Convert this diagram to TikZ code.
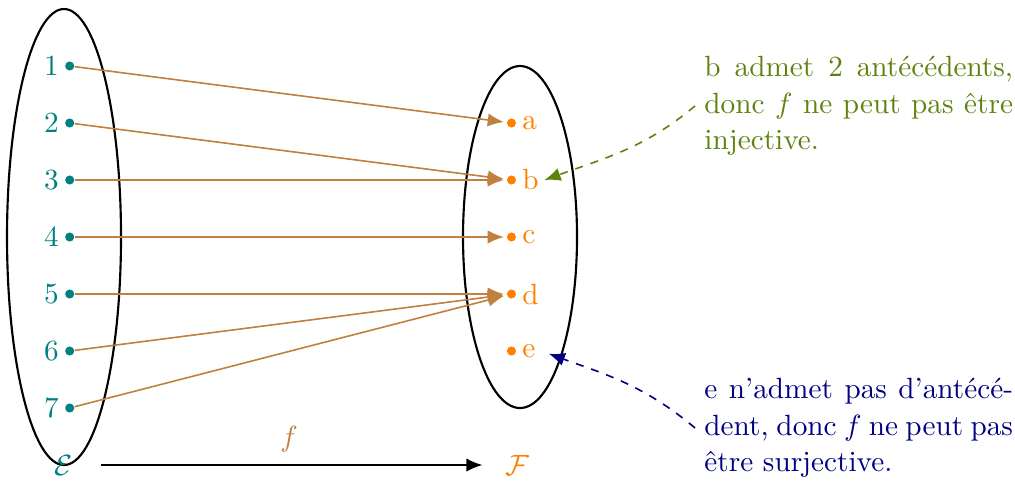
\documentclass[tikz,border=0pt]{standalone}
\usepackage{amsmath,amssymb}
\usepackage{tikz}
\usetikzlibrary{arrows.meta,positioning,calc}
\usepackage{xcolor}
\definecolor{remarkgreen}{RGB}{95,130,15}
\definecolor{remarkblue}{RGB}{0,0,128}
\newcommand{\EE}{\mathcal{E}}
\newcommand{\FF}{\mathcal{F}}

\begin{document}
\begin{tikzpicture}[>={Latex[length=6pt,width=5pt]},x=0.75cm,y=0.75cm,
  font=\fontsize{10.95}{13.6}\selectfont,
  elt/.style={circle,fill,inner sep=0pt,minimum size=3.4pt},
  fleche/.style={->,semithick,brown,shorten >=1pt},
  remarque/.style={text width=4.06cm,align=justify,anchor=west}]
  \useasboundingbox (-1.123,4.158) rectangle (16.684,-4.667);
  % Ensembles
  \draw[thick] (0,0) ellipse (1 and 4);
  \draw[thick] (8,0) ellipse (1 and 3);
  % Elements de E
  \foreach \i in {1,...,7} {
    \node[elt,teal,label={[teal,inner sep=2pt]left:\i}] (e\i) at (0.1,4-\i) {};
  }
  % Elements de F
  \foreach \l [count=\j] in {a,b,c,d,e} {
    \node[elt,orange] (f\l) at (7.85,3-\j) {};
    \node[right=0pt of f\l,orange,inner sep=2pt] (l\l) {\l};
  }
  % Fleches de f
  \foreach \a/\b in {1/a,2/b,3/b,4/c,5/d,6/d,7/d}
    \draw[fleche] (e\a) -- (f\b);

  % E --f--> F
  \node[teal] (E) at (0,-4) {$\EE$};
  \node[orange] (F) at (7.95,-4) {$\FF$};
  \draw[->,semithick,shorten <=7pt,shorten >=5pt] (E) -- node[above=1pt,brown] (nf) {$f$} (F);

  % Remarques
  \node[remarque,remarkgreen] (noteb) at (11.07,2.30)
    {b admet 2 antécédents,\linebreak donc $f$ ne peut pas être\linebreak injective.};
  \node[remarque,remarkblue] (notee) at (11.07,-3.35)
    {e n'admet pas d'antécé-\linebreak dent, donc $f$ ne peut pas\linebreak être surjective.};
  \draw[->,dashed,semithick,remarkgreen] (noteb.west) to[out=-140,in=20] (lb.east);
  \draw[->,dashed,semithick,remarkblue,shorten >=3pt] (notee.west) to[out=140,in=-20] (le.east);
\end{tikzpicture}
\end{document}
